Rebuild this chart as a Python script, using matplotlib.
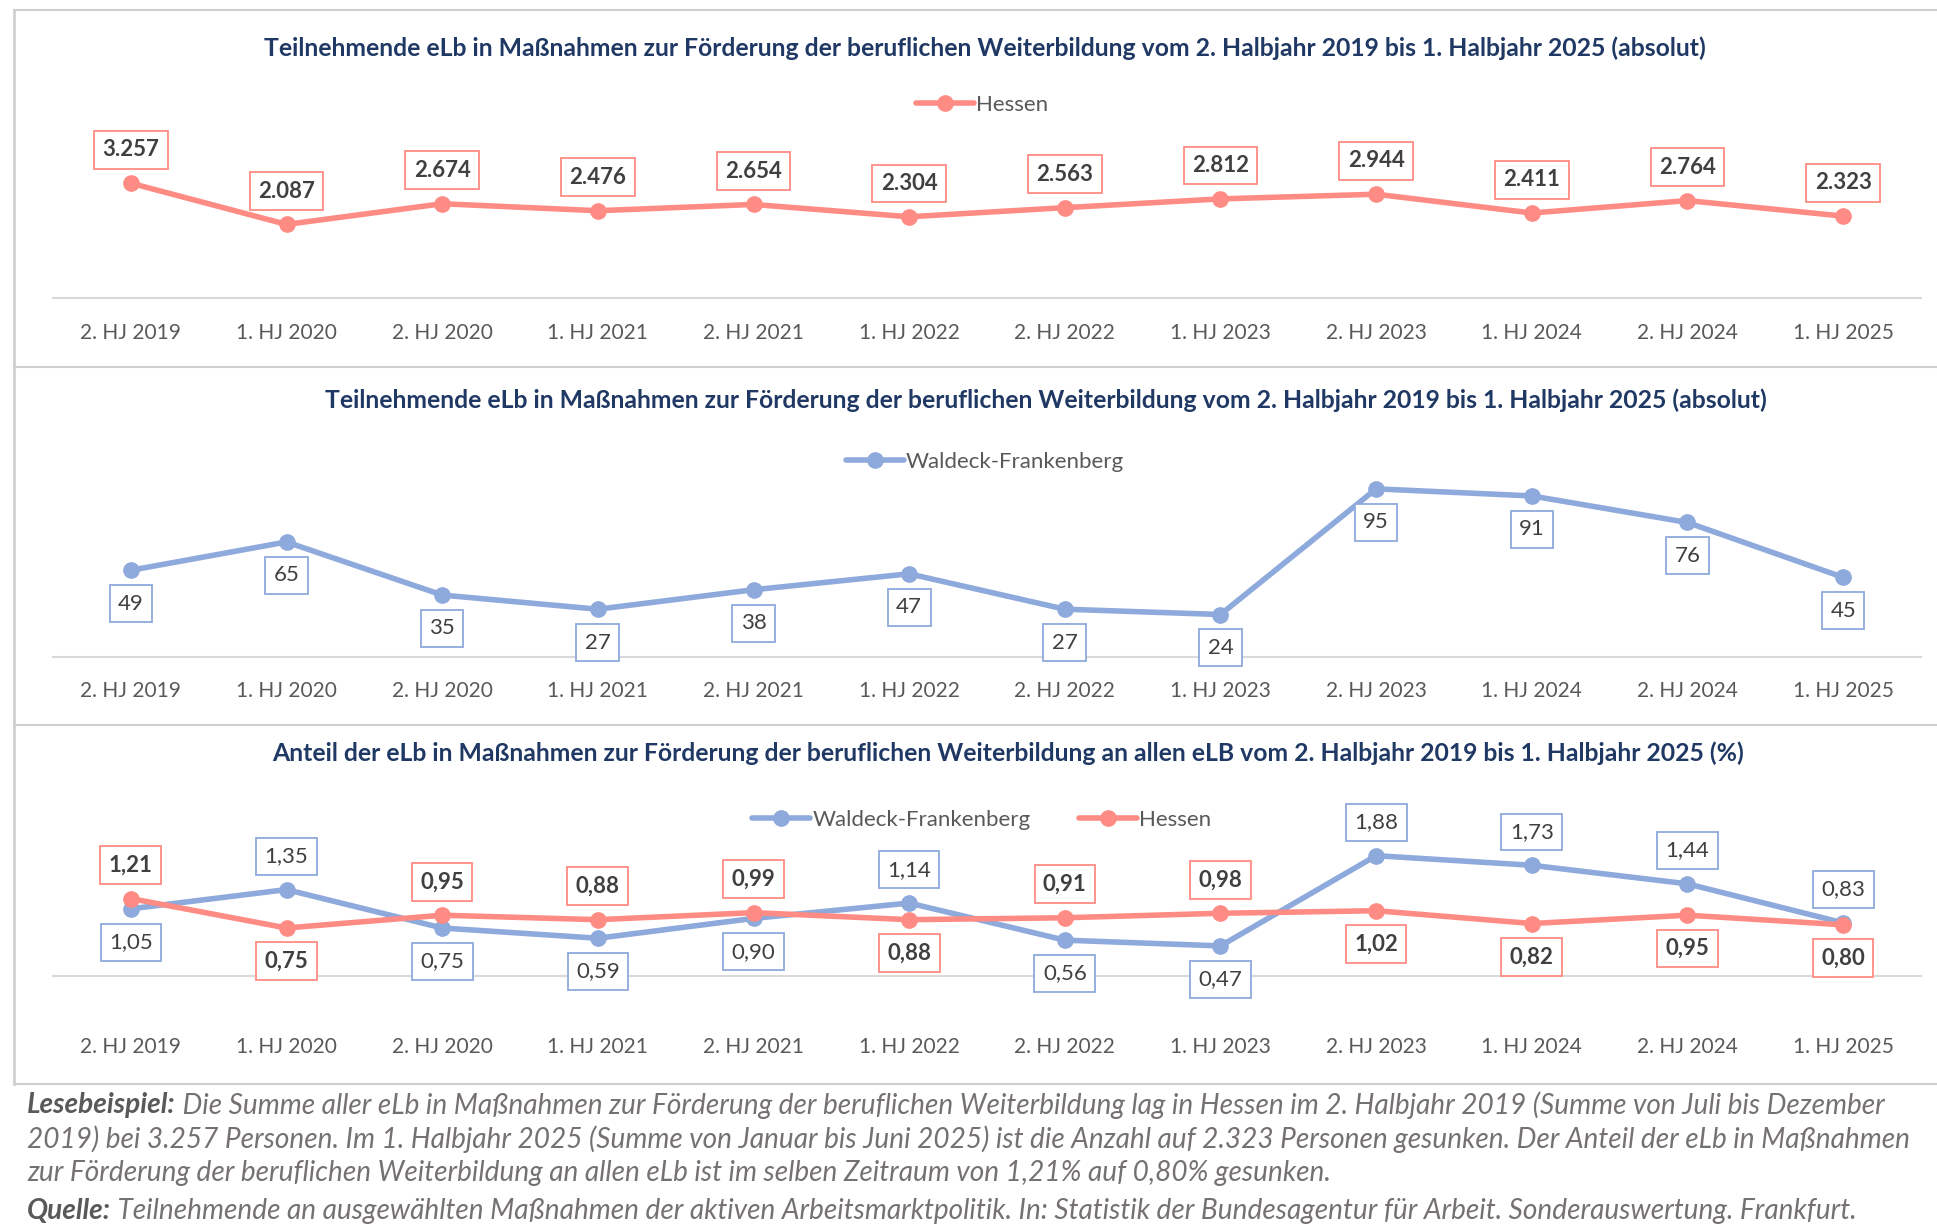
import matplotlib
matplotlib.use("Agg")
import matplotlib.pyplot as plt
from matplotlib.lines import Line2D

# ------------------------------------
# DATA
# ------------------------------------
periods = ["2. HJ 2019", "1. HJ 2020", "2. HJ 2020", "1. HJ 2021",
           "2. HJ 2021", "1. HJ 2022", "2. HJ 2022", "1. HJ 2023",
           "2. HJ 2023", "1. HJ 2024", "2. HJ 2024", "1. HJ 2025"]

hessen_abs = [3257, 2087, 2674, 2476, 2654, 2304, 2563, 2812, 2944, 2411, 2764, 2323]
waldeck_abs = [49, 65, 35, 27, 38, 47, 27, 24, 95, 91, 76, 45]

waldeck_pct = [1.05, 1.35, 0.75, 0.59, 0.90, 1.14, 0.56, 0.47, 1.88, 1.73, 1.44, 0.83]
hessen_pct = [1.21, 0.75, 0.95, 0.88, 0.99, 0.88, 0.91, 0.98, 1.02, 0.82, 0.95, 0.80]

# label above (+1) or below (-1) the point in the % chart
hessen_pct_side = [1, -1, 1, 1, 1, -1, 1, 1, -1, -1, -1, -1]
waldeck_pct_side = [-1, 1, -1, -1, -1, 1, -1, -1, 1, 1, 1, 1]

titles = [
    "Teilnehmende eLb in Maßnahmen zur Förderung der beruflichen Weiterbildung vom 2. Halbjahr 2019 bis 1. Halbjahr 2025 (absolut)",
    "Teilnehmende eLb in Maßnahmen zur Förderung der beruflichen Weiterbildung vom 2. Halbjahr 2019 bis 1. Halbjahr 2025 (absolut)",
    "Anteil der eLb in Maßnahmen zur Förderung der beruflichen Weiterbildung an allen eLB vom 2. Halbjahr 2019 bis 1. Halbjahr 2025 (%)",
]

# ------------------------------------
# STYLE
# ------------------------------------
plt.rcParams["font.family"] = ["Lato", "DejaVu Sans"]

RED = "#FF8C84"
BLUE = "#8EA9DB"
NAVY = "#1F3864"
GREY = "#595959"
LABEL = "#404040"
FRAME = "#D0D0D0"

W, H = 1937, 1229
fig = plt.figure(figsize=(W / 100, H / 100), dpi=100)


def fx(px):
    return px / W


def fy(py):
    return 1 - py / H


def make_axes(top, bottom, ymax, tick_pad):
    ax = fig.add_axes([fx(53), fy(bottom), fx(1921) - fx(53), fy(top) - fy(bottom)])
    ax.set_xlim(-0.5, len(periods) - 0.5)
    ax.set_ylim(0, ymax)
    for s in ["top", "right", "left"]:
        ax.spines[s].set_visible(False)
    ax.spines["bottom"].set_color("#D9D9D9")
    ax.spines["bottom"].set_linewidth(1.5)
    ax.set_yticks([])
    ax.set_xticks(range(len(periods)))
    ax.set_xticklabels(periods, fontsize=15, color=GREY)
    ax.tick_params(axis="x", length=0, pad=tick_pad)
    ax.patch.set_alpha(0)
    return ax


def label(ax, x, y, text, color, side, bold):
    ax.annotate(text, (x, y), xytext=(0, 24 * side), textcoords="offset points",
                ha="center", va="center", fontsize=16, color=LABEL,
                fontweight="bold" if bold else "normal",
                bbox=dict(boxstyle="square,pad=0.38", fc="white", ec=color, lw=1.3),
                zorder=5)


def add_legend(ax, cx, cy, ncol=1):
    ax.legend(loc="center", bbox_to_anchor=(fx(cx), fy(cy)), bbox_transform=fig.transFigure,
              frameon=False, fontsize=16, labelcolor=GREY, handlelength=2.6,
              handletextpad=0.1, ncol=ncol, columnspacing=2.2)


def fmt_abs(v):
    return f"{v:,}".replace(",", ".")


def fmt_pct(v):
    return f"{v:.2f}".replace(".", ",")


x = list(range(len(periods)))
line_kw = dict(lw=4, marker="o", ms=11, solid_capstyle="round")

# ------------------------------------
# PANEL 1: Hessen absolut
# ------------------------------------
ax1 = make_axes(157, 298, 4000, 18)
ax1.plot(x, hessen_abs, color=RED, label="Hessen", **line_kw)
for xi, v in zip(x, hessen_abs):
    label(ax1, xi, v, fmt_abs(v), RED, 1, True)
add_legend(ax1, 982, 105)

# ------------------------------------
# PANEL 2: Waldeck-Frankenberg absolut
# ------------------------------------
ax2 = make_axes(480, 657, 100, 17)
ax2.plot(x, waldeck_abs, color=BLUE, label="Waldeck-Frankenberg", **line_kw)
for xi, v in zip(x, waldeck_abs):
    label(ax2, xi, v, str(v), BLUE, -1, False)
add_legend(ax2, 985, 462)

# ------------------------------------
# PANEL 3: Anteil in %
# ------------------------------------
ax3 = make_axes(848, 976, 2.0, 44)
ax3.plot(x, waldeck_pct, color=BLUE, label="Waldeck-Frankenberg", **line_kw)
ax3.plot(x, hessen_pct, color=RED, label="Hessen", **line_kw)
for xi, v, s in zip(x, waldeck_pct, waldeck_pct_side):
    label(ax3, xi, v, fmt_pct(v), BLUE, s, False)
for xi, v, s in zip(x, hessen_pct, hessen_pct_side):
    label(ax3, xi, v, fmt_pct(v), RED, s, True)
add_legend(ax3, 982, 820, ncol=2)

# ------------------------------------
# TITLES
# ------------------------------------
for (cx, cy), t in zip([(985, 48), (1046, 400), (1008, 753)], titles):
    fig.text(fx(cx), fy(cy), t, ha="center", va="center", fontsize=17.8,
             fontweight="bold", color=NAVY)

# ------------------------------------
# FRAMES
# ------------------------------------
for yy in [10, 367, 725, 1084]:
    fig.add_artist(Line2D([fx(14), 1], [fy(yy), fy(yy)], color=FRAME, lw=1.5))
fig.add_artist(Line2D([fx(14), fx(14)], [fy(10), fy(1084)], color=FRAME, lw=2))

# ------------------------------------
# FOOTER
# ------------------------------------
foot_size = 20.2
foot = [
    ("Lesebeispiel:", " Die Summe aller eLb in Maßnahmen zur Förderung der beruflichen Weiterbildung lag in Hessen im 2. Halbjahr 2019 (Summe von Juli bis Dezember"),
    ("", "2019) bei 3.257 Personen. Im 1. Halbjahr 2025 (Summe von Januar bis Juni 2025) ist die Anzahl auf 2.323 Personen gesunken. Der Anteil der eLb in Maßnahmen"),
    ("", "zur Förderung der beruflichen Weiterbildung an allen eLb ist im selben Zeitraum von 1,21% auf 0,80% gesunken."),
    ("Quelle:", " Teilnehmende an ausgewählten Maßnahmen der aktiven Arbeitsmarktpolitik. In: Statistik der Bundesagentur für Arbeit. Sonderauswertung. Frankfurt."),
]
for (bold, rest), yy in zip(foot, [1105, 1139, 1173, 1211]):
    if bold:
        head = fig.text(fx(27), fy(yy), bold, ha="left", va="center", fontsize=foot_size,
                        style="italic", fontweight="bold", color=GREY)
        fig.add_artist(plt.Annotation(rest, xy=(1, 0.5), xycoords=head, ha="left",
                                      va="center", fontsize=foot_size, style="italic",
                                      color="#767171", annotation_clip=False))
    else:
        fig.text(fx(27), fy(yy), rest, ha="left", va="center", fontsize=foot_size,
                 style="italic", color="#767171")

fig.savefig("out.png", dpi=100)
